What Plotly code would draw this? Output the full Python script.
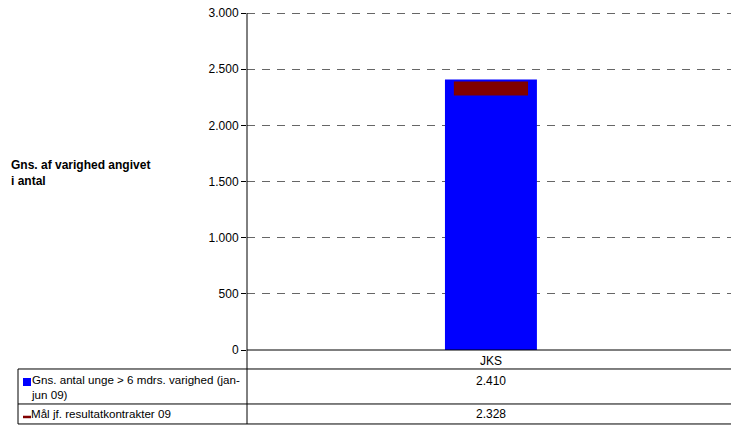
import plotly.graph_objects as go

FONT = "Liberation Sans, Arial, sans-serif"
BAR_COLOR = "#0000FF"
TARGET_COLOR = "#800000"
GRID_COLOR = "#666666"

categories = ["JKS"]
avg_youth = [2410]
target_09 = [2328]
series_names = [
    "Gns. antal unge > 6 mdrs. varighed (jan-<br>jun 09)",
    "Mål jf. resultatkontrakter 09",
]
y_title = "Gns. af varighed angivet<br>i antal"
y_ticks = [0, 500, 1000, 1500, 2000, 2500, 3000]
y_max = 3010  # a touch above 3000 so the top gridline is kept

W, H = 740, 426
L, R, B = 247, 731, 350  # plot area in window pixels
T = B - (B - 13) * y_max / 3000  # 3000 sits at y=13


def px_x(x):
    return (x - L) / (R - L)


def px_y(y):
    return (B - y) / (B - T)


def fmt(v):
    return f"{v:,}".replace(",", ".")


fig = go.Figure()
fig.add_trace(
    go.Bar(
        x=categories,
        y=avg_youth,
        marker_color=BAR_COLOR,
        marker_line_width=0,
        width=0.19,
        name=series_names[0],
        showlegend=False,
    )
)
fig.add_trace(
    go.Scatter(
        x=categories,
        y=target_09,
        mode="markers",
        marker=dict(symbol="line-ew", size=53, line=dict(width=14, color=TARGET_COLOR)),
        name=series_names[1],
        showlegend=False,
    )
)

fig.update_yaxes(
    range=[0, y_max],
    tickvals=y_ticks,
    tickformat=",d",
    ticks="outside",
    ticklen=5,
    tickcolor="black",
    ticklabeloverflow="allow",
    showgrid=True,
    gridcolor=GRID_COLOR,
    griddash="8px,7px",
    gridwidth=1,
    showline=False,
    zeroline=False,
    tickfont=dict(size=12, color="black"),
)
fig.update_xaxes(
    range=[-0.504, 0.496],
    showticklabels=False,
    showgrid=False,
    zeroline=False,
    showline=False,
)

shapes = []


def hline(y, x0, x1):
    shapes.append(
        dict(type="line", xref="paper", yref="paper", x0=px_x(x0), x1=px_x(x1),
             y0=px_y(y), y1=px_y(y), line=dict(color="black", width=1))
    )


def vline(x, y0, y1):
    shapes.append(
        dict(type="line", xref="paper", yref="paper", x0=px_x(x), x1=px_x(x),
             y0=px_y(y0), y1=px_y(y1), line=dict(color="black", width=1))
    )


# axis and table grid
vline(L, 13, 424)
hline(350, L, R)
hline(369, 18, R)
hline(404, 18, R)
hline(424, 18, R)
vline(18, 369, 424)

# legend keys in the table
shapes.append(
    dict(type="rect", xref="paper", yref="paper", x0=px_x(23), x1=px_x(31),
         y0=px_y(378), y1=px_y(386), fillcolor=BAR_COLOR, line_width=0)
)
shapes.append(
    dict(type="line", xref="paper", yref="paper", x0=px_x(23), x1=px_x(31),
         y0=px_y(417), y1=px_y(417), line=dict(color=TARGET_COLOR, width=2.5))
)

annotations = [
    dict(text="<b>" + y_title + "</b>", x=px_x(9), y=px_y(173), xanchor="left",
         yanchor="middle", align="left", font=dict(size=12)),
    dict(text=categories[0], x=px_x(491), y=px_y(361), xanchor="center",
         yanchor="middle", font=dict(size=12)),
    dict(text=series_names[0], x=px_x(29), y=px_y(371), xanchor="left",
         yanchor="top", align="left", font=dict(size=11.6)),
    dict(text=fmt(avg_youth[0]), x=px_x(491), y=px_y(381), xanchor="center",
         yanchor="middle", font=dict(size=12)),
    dict(text=series_names[1], x=px_x(29), y=px_y(414), xanchor="left",
         yanchor="middle", font=dict(size=11.6)),
    dict(text=fmt(target_09[0]), x=px_x(491), y=px_y(414), xanchor="center",
         yanchor="middle", font=dict(size=12)),
]
for a in annotations:
    a.update(xref="paper", yref="paper", showarrow=False)

fig.update_layout(
    width=W,
    height=H,
    margin=dict(l=L, r=W - R, t=T, b=H - B, autoexpand=False),
    plot_bgcolor="white",
    paper_bgcolor="white",
    font=dict(family=FONT, size=12, color="black"),
    separators=",.",
    showlegend=False,
    shapes=shapes,
    annotations=annotations,
)

# drop the default body margin so the figure fills the window exactly
fig.write_html(
    "out.html",
    config={"displayModeBar": False},
    post_script="document.body.style.margin = '0';",
)
